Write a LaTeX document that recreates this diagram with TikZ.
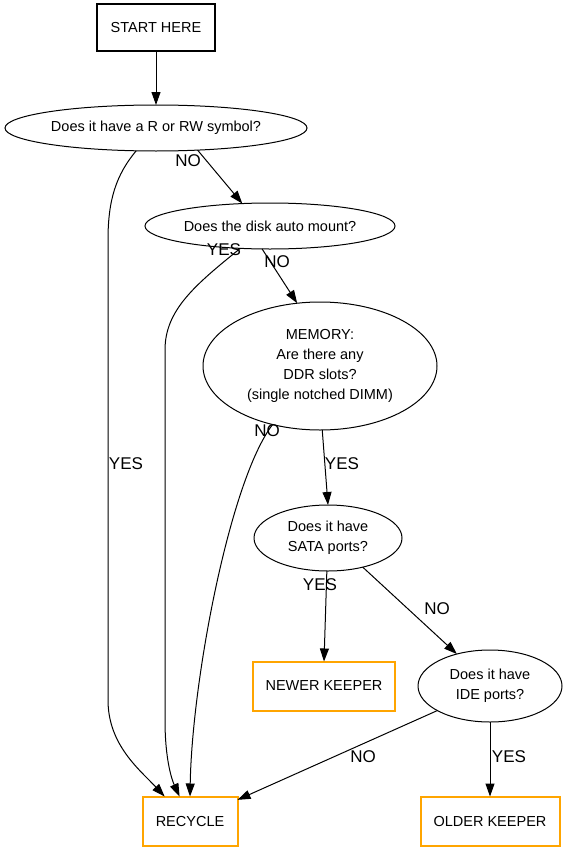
\documentclass[tikz,border=0pt]{standalone}
\usepackage{fontspec}
\setmainfont{Liberation Sans}
\usetikzlibrary{arrows.meta,shapes.geometric}
\definecolor{keeper}{HTML}{FFA500}
\tikzset{
  ask/.style = {draw, ellipse, line width=1pt, inner sep=0pt, outer sep=0pt,
    align=center, font=\fontsize{14.5}{20}\selectfont},
  box/.style = {draw, rectangle, line width=2pt, inner sep=0pt, outer sep=0pt,
    font=\fontsize{14.5}{20}\selectfont},
  keep/.style = {box, draw=keeper},
  lbl/.style = {inner sep=0pt, font=\fontsize{17}{20}\selectfont},
  flow/.style = {line width=1pt, -{Triangle[length=13pt,width=9pt]}}
}

\begin{document}
\begin{tikzpicture}[x=1pt, y=-1pt]
  \useasboundingbox (0,0) rectangle (568,851);
  % questions and outcomes
  \node[box, minimum width=118, minimum height=47] (start) at (156,28) {START HERE};
  \node[ask, minimum width=302, minimum height=46] (q1) at (156,128) {Does it have a R or RW symbol?};
  \node[ask, minimum width=250, minimum height=46] (q2) at (270,226) {Does the disk auto mount?};
  \node[ask, minimum width=234, minimum height=128] (mem) at (320,366)
    {MEMORY:\\Are there any\\DDR slots?\\(single notched DIMM)};
  \node[ask, minimum width=148, minimum height=66] (sata) at (328,538) {Does it have\\SATA ports?};
  \node[ask, minimum width=144, minimum height=72] (ide) at (490,686) {Does it have\\IDE ports?};
  \node[keep, minimum width=142, minimum height=49] (newer) at (324,686) {NEWER KEEPER};
  \node[keep, minimum width=95, minimum height=49] (recycle) at (190,821) {RECYCLE};
  \node[keep, minimum width=139, minimum height=49] (older) at (490,821) {OLDER KEEPER};
  % connectors
  \draw[flow] (start) -- (q1);
  \draw[flow] (q1.229) .. controls (116,175) and (108,200) .. (108,240)
    -- (108,700) .. controls (108,745) and (140,770) .. (recycle.136);
  \draw[flow] (q1.332) -- (q2.141);
  \draw[flow] (q2.217) .. controls (195,285) and (165,310) .. (165,350)
    -- (165,720) .. controls (165,760) and (172,780) .. (recycle.113);
  \draw[flow] (q2.251) -- (mem.110);
  \draw[flow] (mem.231) .. controls (230,480) and (192,680) .. (recycle.north);
  \draw[flow] (mem.272) -- (sata.north);
  \draw[flow] (sata.268) -- (newer.north);
  \draw[flow] (sata.320) -- (ide.136);
  \draw[flow] (ide.205) -- (recycle.24);
  \draw[flow] (ide.south) -- (older.north);
  % answers
  \node[lbl] (noA) at (188,161) {NO};
  \node[lbl] (yesA) at (126,464) {YES};
  \node[lbl] (yesB) at (224,250) {YES};
  \node[lbl] (noB) at (277,262) {NO};
  \node[lbl] (noC) at (267,431) {NO};
  \node[lbl] (yesC) at (342,464) {YES};
  \node[lbl] (yesD) at (320,585) {YES};
  \node[lbl] (noD) at (437,609) {NO};
  \node[lbl] (noE) at (363,757) {NO};
  \node[lbl] (yesE) at (509,757) {YES};
\end{tikzpicture}
\end{document}
